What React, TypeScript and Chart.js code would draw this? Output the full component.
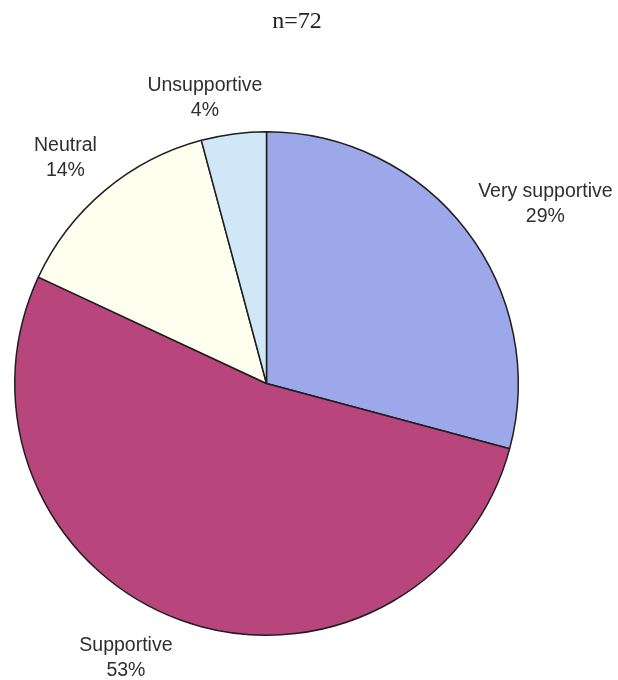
import React, { useEffect, useRef } from "react";
import { Chart, registerables } from "chart.js";

Chart.register(...registerables);

const categories = ["Very supportive", "Supportive", "Neutral", "Unsupportive"];
const counts = [21, 38, 10, 3];
const sampleTitle = "n=72";
const sliceColors = ["#9ca8ea", "#b8467c", "#fffff0", "#d0e7f8"];
// small style nudges for the outside labels (pixels), per slice
const labelNudge = [
  [6, 3],
  [-30, -5],
  [-3, 3],
  [-18, 11],
];

const labelPlugin = {
  id: "outsideLabels",
  afterDatasetsDraw(chart: any) {
    const ctx = chart.ctx;
    const meta = chart.getDatasetMeta(0);
    const data = chart.data.datasets[0].data as number[];
    const total = data.reduce((a, b) => a + b, 0);
    const font = "19.5px 'Liberation Sans', Arial, sans-serif";
    const lineH = 25;
    ctx.save();
    ctx.font = font;
    ctx.fillStyle = "#2e2e2e";
    ctx.textAlign = "center";
    ctx.textBaseline = "alphabetic";
    meta.data.forEach((arc: any, i: number) => {
      const { x, y, startAngle, endAngle, outerRadius } = arc.getProps(
        ["x", "y", "startAngle", "endAngle", "outerRadius"],
        true
      );
      const mid = (startAngle + endAngle) / 2;
      const dx = Math.cos(mid);
      const dy = Math.sin(mid);
      const l1 = chart.data.labels[i] as string;
      const l2 = Math.round((data[i] / total) * 100) + "%";
      const w = Math.max(ctx.measureText(l1).width, ctx.measureText(l2).width);
      const h = 43;
      const r = outerRadius + 25;
      const cx = x + r * dx + (dx * w) / 2 + labelNudge[i][0];
      const cy = y + r * dy + (dy * h) / 2 + labelNudge[i][1];
      const base1 = cy - 7.5;
      ctx.fillText(l1, cx, base1);
      ctx.fillText(l2, cx, base1 + lineH);
    });
    // title
    ctx.font = "24px 'Liberation Serif', 'Times New Roman', serif";
    ctx.fillStyle = "#222222";
    ctx.fillText(sampleTitle, 297, 28);
    ctx.restore();
  },
};

export default function App() {
  const ref = useRef<HTMLCanvasElement>(null);
  useEffect(() => {
    if (!ref.current) return;
    const chart = new Chart(ref.current, {
      type: "pie",
      data: {
        labels: categories,
        datasets: [
          {
            data: counts,
            backgroundColor: sliceColors,
            borderColor: "#1e1e1e",
            borderWidth: 1.5,
          },
        ],
      },
      options: {
        animation: false,
        responsive: false,
        devicePixelRatio: 1,
        layout: { padding: { left: 14, right: 99, top: 131, bottom: 44 } },
        plugins: {
          legend: { display: false },
          tooltip: { enabled: false },
          title: { display: false },
        },
      },
      plugins: [labelPlugin],
    });
    return () => chart.destroy();
  }, []);
  return (
    <div style={{ position: "fixed", left: 0, top: 0, width: 618, height: 680, background: "#ffffff" }}>
      <canvas ref={ref} width={618} height={680} style={{ display: "block" }} />
    </div>
  );
}
